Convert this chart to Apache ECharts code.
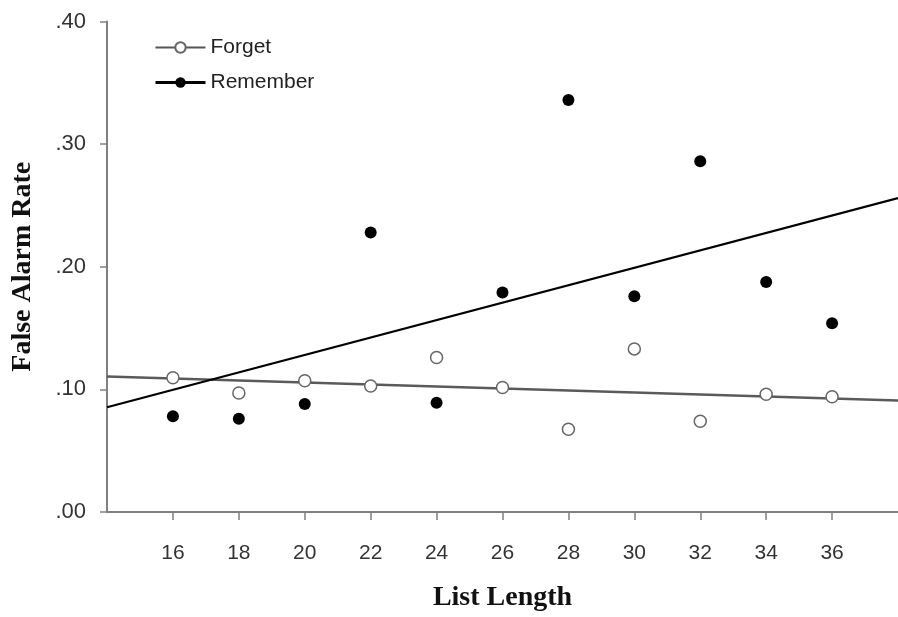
<!DOCTYPE html>
<html>
<head>
<meta charset="utf-8">
<script src="https://cdn.jsdelivr.net/npm/echarts@6/dist/echarts.min.js"></script>
<style>
html,body{margin:0;padding:0;background:#fff;}
#chart{width:898px;height:617px;}
</style>
</head>
<body>
<div id="chart"></div>
<script>
// Data
const listLength = [16, 18, 20, 22, 24, 26, 28, 30, 32, 34, 36];
const forget =   [0.1095, 0.097, 0.107, 0.1027, 0.126, 0.1016, 0.0675, 0.133, 0.074, 0.096, 0.094];
const remember = [0.078, 0.076, 0.088, 0.228, 0.089, 0.179, 0.336, 0.176, 0.286, 0.1876, 0.154];
const xTicks = [16, 18, 20, 22, 24, 26, 28, 30, 32, 34, 36];
const yTicks = [0, 0.1, 0.2, 0.3, 0.4];
const xRange = [14, 38];

function fit(xs, ys) {
  const n = xs.length;
  const mx = xs.reduce((a, b) => a + b, 0) / n;
  const my = ys.reduce((a, b) => a + b, 0) / n;
  let sxy = 0, sxx = 0;
  for (let i = 0; i < n; i++) { sxy += (xs[i] - mx) * (ys[i] - my); sxx += (xs[i] - mx) ** 2; }
  const b = sxy / sxx, a = my - b * mx;
  return xRange.map(x => [x, a + b * x]);
}

const pts = (ys) => listLength.map((x, i) => [x, ys[i]]);
const sans = 'Liberation Sans, Arial, sans-serif';
const serif = 'Liberation Serif, Times New Roman, serif';

const chart = echarts.init(document.getElementById('chart'), null, {renderer: 'canvas'});
chart.setOption({
  backgroundColor: '#ffffff',
  animation: false,
  grid: {left: 107, top: 21.5, right: -9, bottom: 103, containLabel: false},
  legend: {
    orient: 'vertical', left: 149, top: 32,
    itemWidth: 50, itemHeight: 13, itemGap: 14,
    textStyle: {fontSize: 21, fontFamily: sans, color: '#222'},
    data: [
      {name: 'Forget', lineStyle: {color: '#555', width: 2, opacity: 1}},
      {name: 'Remember', lineStyle: {color: '#000', width: 3, opacity: 1}}
    ]
  },
  xAxis: {
    type: 'value', min: xRange[0], max: xRange[1], interval: 2,
    name: 'List Length', nameLocation: 'middle', nameGap: 72,
    nameTextStyle: {fontSize: 28, fontWeight: 'bold', fontFamily: serif, color: '#111'},
    axisLine: {show: true, lineStyle: {color: '#808080', width: 2}},
    axisTick: {show: true, length: 8, customValues: xTicks, lineStyle: {color: '#808080', width: 1.5}},
    axisLabel: {customValues: xTicks, margin: 31, fontSize: 21, fontFamily: sans, color: '#333'},
    splitLine: {show: false}
  },
  yAxis: {
    type: 'value', min: 0, max: 0.4, interval: 0.1,
    name: 'False Alarm Rate', nameLocation: 'middle', nameGap: 70, nameRotate: 90,
    nameTextStyle: {fontSize: 28, fontWeight: 'bold', fontFamily: serif, color: '#111'},
    axisLine: {show: true, lineStyle: {color: '#808080', width: 2}},
    axisTick: {show: true, length: 7, lineStyle: {color: '#808080', width: 1.5}},
    axisLabel: {margin: 21, fontSize: 22, fontFamily: sans, color: '#333',
      formatter: v => v.toFixed(2).replace(/^0/, '')},
    splitLine: {show: false}
  },
  series: [
    {name: 'ForgetFit', type: 'line', data: fit(listLength, forget), showSymbol: false, symbol: 'none',
      lineStyle: {color: '#5a5a5a', width: 2.5}, z: 2, silent: true},
    {name: 'RememberFit', type: 'line', data: fit(listLength, remember), showSymbol: false, symbol: 'none',
      lineStyle: {color: '#000', width: 2.2}, z: 2, silent: true},
    {name: 'Forget', type: 'line', data: pts(forget), symbol: 'circle', symbolSize: 12,
      itemStyle: {color: '#fff', borderColor: '#666', borderWidth: 1.5},
      lineStyle: {opacity: 0, width: 0}, z: 3},
    {name: 'Remember', type: 'line', data: pts(remember), symbol: 'circle', symbolSize: 12,
      itemStyle: {color: '#000', borderColor: '#000', borderWidth: 0},
      lineStyle: {opacity: 0, width: 0}, z: 3}
  ]
});
</script>
</body>
</html>
